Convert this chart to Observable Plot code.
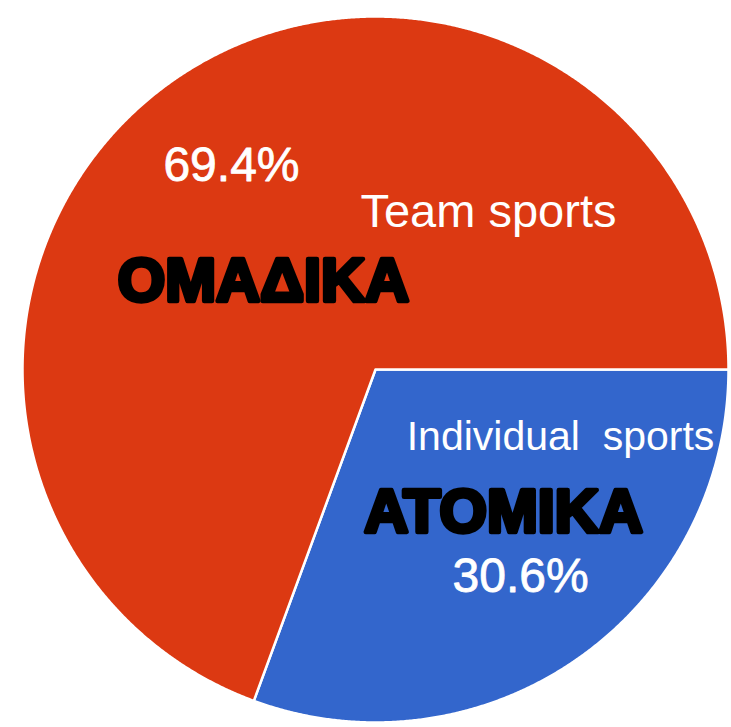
<!DOCTYPE html>
<html>
<head>
<meta charset="utf-8">
<script src="https://cdn.jsdelivr.net/npm/d3@7"></script>
<script src="https://cdn.jsdelivr.net/npm/@observablehq/plot@0.6"></script>
<style>
  html, body { margin: 0; padding: 0; background: #ffffff; }
  #chart svg text { white-space: pre; }
</style>
</head>
<body>
<div id="chart"></div>
<script>
// ---- data ----
const categories = ["ΟΜΑΔΙΚΑ", "ΑΤΟΜΙΚΑ"];
const englishLabels = ["Team sports", "Individual  sports"];
const shares = [69.4, 30.6];
const percentLabels = ["69.4%", "30.6%"];
const sliceColors = ["#dc3912", "#3366cc"];

// ---- build slices (blue slice starts at 3 o'clock, going clockwise) ----
const rows = categories.map((c, i) => ({
  category: c, english: englishLabels[i], share: shares[i], pct: percentLabels[i]
}));
const pieOrder = [rows[1], rows[0]];
const arcs = d3.pie().sort(null).value(d => d.share)
  .startAngle(Math.PI / 2).endAngle(Math.PI / 2 + 2 * Math.PI)(pieOrder);

const outline = [];
for (const a of arcs) {
  const key = a.data.category;
  outline.push({key, x: 0, y: 0});
  const n = Math.max(2, Math.ceil((a.endAngle - a.startAngle) / (Math.PI / 720)));
  for (let k = 0; k <= n; k++) {
    const t = a.startAngle + (a.endAngle - a.startAngle) * k / n;
    outline.push({key, x: Math.sin(t), y: Math.cos(t)});
  }
  outline.push({key, x: 0, y: 0});
}
// label anchors: centroid of each slice at half radius
const anchor = {};
for (const a of arcs) {
  const m = (a.startAngle + a.endAngle) / 2;
  anchor[a.data.category] = {x: 0.5 * Math.sin(m), y: 0.5 * Math.cos(m)};
}
const red = categories[0], blue = categories[1];
const one = (cat, field) => {
  const r = rows.find(d => d.category === cat);
  return [{x: anchor[cat].x, y: anchor[cat].y, text: r[field]}];
};

const font = "'Liberation Sans', Arial, Helvetica, sans-serif";
const txt = (cat, field, opts) => Plot.text(one(cat, field), {
  x: "x", y: "y", text: "text", fontFamily: font, textAnchor: "middle", ...opts
});

const chart = Plot.plot({
  width: 731,
  height: 727,
  margin: 0,
  style: {background: "#ffffff", overflow: "visible"},
  x: {domain: [-1, 1], range: [22, 728], axis: null},
  y: {domain: [-1, 1], range: [722, 16], axis: null},
  color: {domain: categories, range: sliceColors},
  marks: [
    Plot.line(outline, {x: "x", y: "y", z: "key", fill: "key", stroke: "#ffffff",
      strokeWidth: 2.5, strokeLinejoin: "round", curve: "linear"}),
    txt(red, "pct", {dx: -43, dy: -59, fontSize: 48, fill: "#ffffff", stroke: "#ffffff", strokeWidth: 0.8}),
    txt(red, "english", {dx: 214, dy: -13, fontSize: 47, fill: "#ffffff"}),
    txt(red, "category", {dx: -11, dy: 57, fontSize: 61, fontWeight: "bold", fill: "#000000", stroke: "#000000", strokeWidth: 4.5, strokeLinejoin: "round"}),
    txt(blue, "english", {dx: 84, dy: -77, fontSize: 41, fill: "#ffffff"}),
    txt(blue, "category", {dx: 27, dy: -2, fontSize: 61, fontWeight: "bold", fill: "#000000", stroke: "#000000", strokeWidth: 4.5, strokeLinejoin: "round"}),
    txt(blue, "pct", {dx: 44, dy: 62, fontSize: 48, fill: "#ffffff", stroke: "#ffffff", strokeWidth: 0.8})
  ]
});
document.getElementById("chart").appendChild(chart);
</script>
</body>
</html>
